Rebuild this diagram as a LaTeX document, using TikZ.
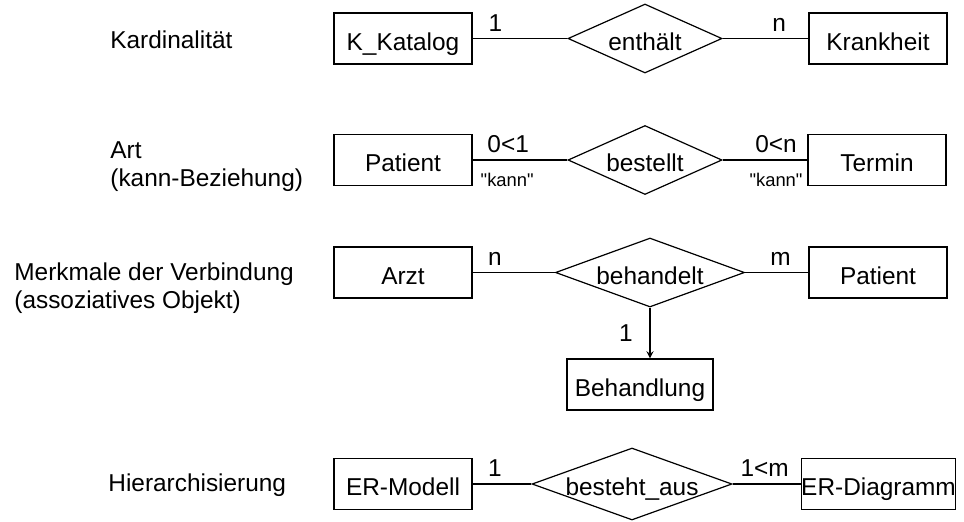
\documentclass[tikz,border=0pt]{standalone}
\usepackage{fontspec}
\setmainfont{Liberation Sans}
\newfontfamily\kannfont{Liberation Sans}[Ligatures=TeXOff]
\usepackage{tikz}
\usetikzlibrary{shapes.geometric, arrows}
\tikzstyle{entity} = [rectangle, minimum width=69pt, minimum height=25.5pt, draw=black, line width=0.6pt, inner sep=2pt, text height=11.5pt, text depth=0pt]
\tikzstyle{relation} = [diamond, aspect=2.2, minimum width=77pt, minimum height=34.5pt, draw=black, line width=0.6pt, inner sep=0pt, text height=11.5pt, text depth=0pt]
\tikzstyle{topic} = [anchor=west, align=left, inner sep=0pt, font=\fontsize{12.2}{14}\selectfont]
\tikzstyle{line} = [line width=0.6pt]
\tikzstyle{arrow} = [line width=0.6pt,->,>=stealth]
\tikzstyle{kann} = [font=\kannfont\fontsize{9.2}{11}\selectfont]

\begin{document}
\begin{tikzpicture}[x=0.5pt, y=-0.5pt, node distance=121pt, font=\fontsize{12.2}{13}\selectfont]
\useasboundingbox (0,0) rectangle (964,521);

% Kardinalitaet
\node (kardinal) [topic, anchor=base west] at (110,48.5) {Kardinalität};
\node (katalog) [entity] at (403,38.5) {K\_Katalog};
\node (enthaelt) [relation, right of=katalog] {\makebox[0pt]{enthält}};
\node (krankheit) [entity, right of=enthaelt, xshift=-4.5pt] {Krankheit};
\draw[line] (katalog) -- node[above, pos=0.24] {1} (enthaelt);
\draw[line] (enthaelt) -- node[above, pos=0.66] {n} (krankheit);

% Art
\node (art) [topic] at (110,167) {Art\\(kann-Beziehung)};
\node (patient) [entity] at (403,160) {Patient};
\node (bestellt) [relation, right of=patient] {\makebox[0pt]{bestellt}};
\node (termin) [entity, right of=bestellt, xshift=-5pt] {Termin};
\draw[line] (patient) -- node[above, pos=0.375] {0<1}
  node[kann, below, pos=0.365, yshift=-2.8pt] {"kann"} (bestellt);
\draw[line] (bestellt) -- node[above, pos=0.63] {0<n}
  node[kann, below, pos=0.63, yshift=-2.8pt] {"kann"} (termin);

% assoziatives Objekt
\node (merkmale) [topic] at (14,288) {Merkmale der Verbindung\\(assoziatives Objekt)};
\node (arzt) [entity] at (403,272.5) {Arzt};
\node (behandelt) [relation, right of=arzt, xshift=2.5pt, minimum width=94.5pt] {\makebox[0pt]{behandelt}};
\node (patient2) [entity, right of=behandelt, xshift=-7pt] {Patient};
\node (behandlung) [entity, below of=behandelt, xshift=-5pt, yshift=65pt, minimum width=73pt] {Behandlung};
\draw[line] (arzt) -- node[above, pos=0.27] {n} (behandelt);
\draw[line] (behandelt) -- node[above, pos=0.56] {m} (patient2);
\draw[arrow] (behandelt) -- node[left, xshift=-5pt] {1} (behandelt |- behandlung.north);

% Hierarchisierung
\node (hierarchie) [topic, anchor=base west] at (108,491) {Hierarchisierung};
\node (ermodell) [entity] at (403,484) {ER-Modell};
\node (besteht) [relation, right of=ermodell, xshift=-6.5pt, minimum width=100pt, minimum height=36pt] {\makebox[0pt]{besteht\_aus}};
\node (erdiagramm) [entity, right of=besteht, xshift=2.25pt, inner xsep=0pt, minimum width=76.5pt] {ER-Diagramm};
\draw[line] (ermodell) -- node[above, pos=0.38] {1} (besteht);
\draw[line] (besteht) -- node[above, pos=0.47] {1<m} (erdiagramm);
\end{tikzpicture}
\end{document}
